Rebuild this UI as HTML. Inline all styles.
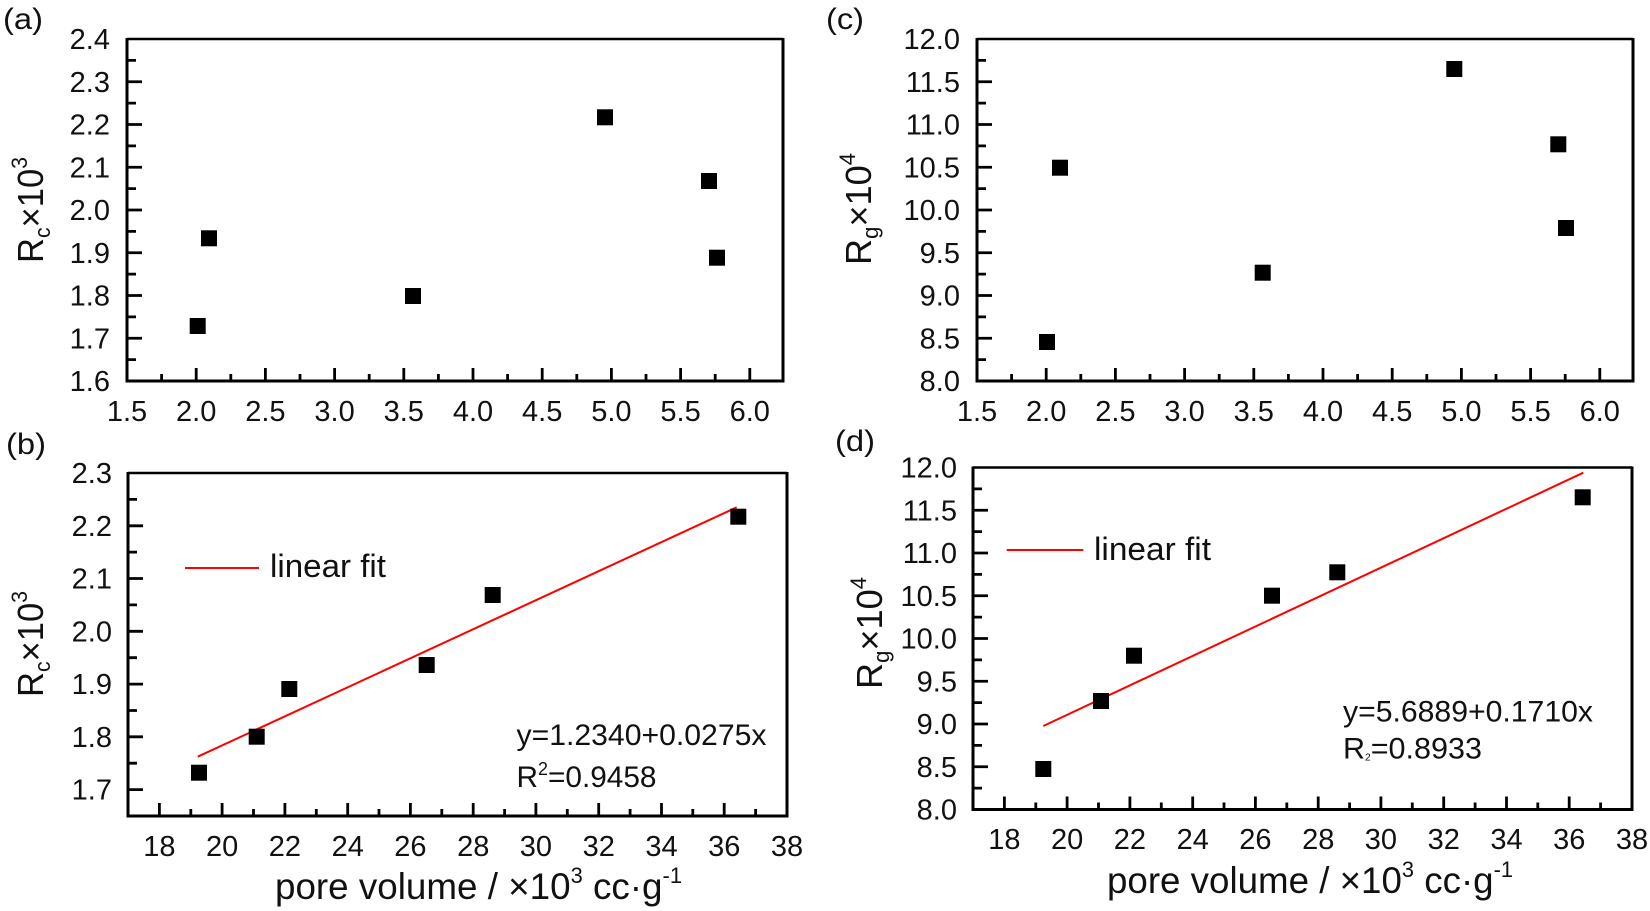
<!DOCTYPE html>
<html><head><meta charset="utf-8">
<style>
html,body{margin:0;padding:0;background:#fff;}
svg{display:block;}
text{font-family:"Liberation Sans",Arial,sans-serif;fill:#111;}
</style></head>
<body>
<svg width="1650" height="911" viewBox="0 0 1650 911" xmlns="http://www.w3.org/2000/svg">
<rect width="1650" height="911" fill="#fff"/>

<!-- ============ PANEL (a) ============ -->
<g>
<text x="3" y="29" font-size="30" textLength="40" lengthAdjust="spacingAndGlyphs">(a)</text>
<path d="M127,39 H783" stroke="#000" stroke-width="2.6" fill="none"/>
<path d="M783,38 V382.5 M125.5,381 H784.5 M127,38 V382.5" stroke="#000" stroke-width="3" fill="none"/>
<path d="M127,338.25H142M127,295.5H142M127,252.75H142M127,210H142M127,167.25H142M127,124.5H142M127,81.75H142
M127,359.6H136M127,316.9H136M127,274.1H136M127,231.4H136M127,188.6H136M127,145.9H136M127,103.1H136M127,60.4H136" stroke="#000" stroke-width="2.8"/>
<path d="M196.2,381V368M265.4,381V368M334.6,381V368M403.8,381V368M473,381V368M542.2,381V368M611.4,381V368M680.6,381V368M749.8,381V368
M161.6,381V374M230.8,381V374M300,381V374M369.2,381V374M438.4,381V374M507.6,381V374M576.8,381V374M646,381V374M715.2,381V374" stroke="#000" stroke-width="2.8"/>
<g font-size="29" text-anchor="end">
<text x="110" y="391">1.6</text><text x="110" y="348.25">1.7</text><text x="110" y="305.5">1.8</text>
<text x="110" y="262.75">1.9</text><text x="110" y="220">2.0</text><text x="110" y="177.25">2.1</text>
<text x="110" y="134.5">2.2</text><text x="110" y="91.75">2.3</text><text x="110" y="49">2.4</text>
</g>
<g font-size="29" text-anchor="middle">
<text x="127" y="421">1.5</text><text x="196.2" y="421">2.0</text><text x="265.4" y="421">2.5</text>
<text x="334.6" y="421">3.0</text><text x="403.8" y="421">3.5</text><text x="473" y="421">4.0</text>
<text x="542.2" y="421">4.5</text><text x="611.4" y="421">5.0</text><text x="680.6" y="421">5.5</text>
<text x="749.8" y="421">6.0</text>
</g>
<text transform="translate(43,210) rotate(-90)" text-anchor="middle" font-size="36" textLength="106" lengthAdjust="spacingAndGlyphs">R<tspan font-size="22" dy="7">c</tspan><tspan dy="-7">×10</tspan><tspan font-size="22" dy="-16">3</tspan></text>
<g fill="#000">
<rect x="189.7" y="318" width="16" height="16"/>
<rect x="201" y="230.3" width="16" height="16"/>
<rect x="405" y="288" width="16" height="16"/>
<rect x="597" y="109.3" width="16" height="16"/>
<rect x="701" y="173" width="16" height="16"/>
<rect x="709" y="249.7" width="16" height="16"/>
</g>
</g>

<!-- ============ PANEL (c) ============ -->
<g>
<text x="826" y="29" font-size="30" textLength="38" lengthAdjust="spacingAndGlyphs">(c)</text>
<path d="M977,39 H1633" stroke="#000" stroke-width="2.6" fill="none"/>
<path d="M1633,38 V382.5 M975.5,381 H1634.5 M977,38 V382.5" stroke="#000" stroke-width="3" fill="none"/>
<path d="M977,338.25H992M977,295.5H992M977,252.75H992M977,210H992M977,167.25H992M977,124.5H992M977,81.75H992
M977,359.6H986M977,316.9H986M977,274.1H986M977,231.4H986M977,188.6H986M977,145.9H986M977,103.1H986M977,60.4H986" stroke="#000" stroke-width="2.8"/>
<path d="M1046.2,381V368M1115.4,381V368M1184.6,381V368M1253.8,381V368M1323,381V368M1392.2,381V368M1461.4,381V368M1530.6,381V368M1599.8,381V368
M1011.6,381V374M1080.8,381V374M1150,381V374M1219.2,381V374M1288.4,381V374M1357.6,381V374M1426.8,381V374M1496,381V374M1565.2,381V374" stroke="#000" stroke-width="2.8"/>
<g font-size="29" text-anchor="end">
<text x="960" y="391">8.0</text><text x="960" y="348.25">8.5</text><text x="960" y="305.5">9.0</text>
<text x="960" y="262.75">9.5</text><text x="960" y="220">10.0</text><text x="960" y="177.25">10.5</text>
<text x="960" y="134.5">11.0</text><text x="960" y="91.75">11.5</text><text x="960" y="49">12.0</text>
</g>
<g font-size="29" text-anchor="middle">
<text x="977" y="421">1.5</text><text x="1046.2" y="421">2.0</text><text x="1115.4" y="421">2.5</text>
<text x="1184.6" y="421">3.0</text><text x="1253.8" y="421">3.5</text><text x="1323" y="421">4.0</text>
<text x="1392.2" y="421">4.5</text><text x="1461.4" y="421">5.0</text><text x="1530.6" y="421">5.5</text>
<text x="1599.8" y="421">6.0</text>
</g>
<text transform="translate(871,209) rotate(-90)" text-anchor="middle" font-size="36" textLength="112" lengthAdjust="spacingAndGlyphs">R<tspan font-size="22" dy="7">g</tspan><tspan dy="-7">×10</tspan><tspan font-size="22" dy="-16">4</tspan></text>
<g fill="#000">
<rect x="1039" y="334" width="16" height="16"/>
<rect x="1052" y="159.7" width="16" height="16"/>
<rect x="1254.7" y="264.7" width="16" height="16"/>
<rect x="1446.3" y="61" width="16" height="16"/>
<rect x="1550.3" y="136.3" width="16" height="16"/>
<rect x="1558" y="220" width="16" height="16"/>
</g>
</g>

<!-- ============ PANEL (b) ============ -->
<g>
<text x="6" y="454" font-size="30" textLength="40" lengthAdjust="spacingAndGlyphs">(b)</text>
<path d="M128,473 H787" stroke="#000" stroke-width="2.6" fill="none"/>
<path d="M787,472 V817.5 M126.5,816 H788.5 M128,472 V817.5" stroke="#000" stroke-width="3" fill="none"/>
<path d="M128,789.6H143M128,736.8H143M128,684.1H143M128,631.3H143M128,578.5H143M128,525.8H143
M128,763.2H137M128,710.5H137M128,657.7H137M128,604.9H137M128,552.1H137M128,499.4H137" stroke="#000" stroke-width="2.8"/>
<path d="M159.4,816V803M222.1,816V803M284.9,816V803M347.7,816V803M410.4,816V803M473.2,816V803M535.9,816V803M598.7,816V803M661.5,816V803M724.2,816V803
M190.8,816V809M253.5,816V809M316.3,816V809M379,816V809M441.8,816V809M504.6,816V809M567.3,816V809M630.1,816V809M692.8,816V809M755.6,816V809" stroke="#000" stroke-width="2.8"/>
<g font-size="29" text-anchor="end">
<text x="112" y="799.6">1.7</text><text x="112" y="746.8">1.8</text><text x="112" y="694.1">1.9</text>
<text x="112" y="641.3">2.0</text><text x="112" y="588.5">2.1</text><text x="112" y="535.8">2.2</text>
<text x="112" y="483">2.3</text>
</g>
<g font-size="29" text-anchor="middle">
<text x="159.4" y="856">18</text><text x="222.1" y="856">20</text><text x="284.9" y="856">22</text>
<text x="347.7" y="856">24</text><text x="410.4" y="856">26</text><text x="473.2" y="856">28</text>
<text x="535.9" y="856">30</text><text x="598.7" y="856">32</text><text x="661.5" y="856">34</text>
<text x="724.2" y="856">36</text><text x="787" y="856">38</text>
</g>
<text transform="translate(43,644) rotate(-90)" text-anchor="middle" font-size="36" textLength="106" lengthAdjust="spacingAndGlyphs">R<tspan font-size="22" dy="7">c</tspan><tspan dy="-7">×10</tspan><tspan font-size="22" dy="-16">3</tspan></text>
<text x="275" y="899" font-size="37" textLength="407" lengthAdjust="spacingAndGlyphs">pore volume / ×10<tspan font-size="22" dy="-16">3</tspan><tspan dy="16"> cc·g</tspan><tspan font-size="22" dy="-16">-1</tspan></text>
<line x1="185" y1="568" x2="259" y2="568" stroke="#f00" stroke-width="2"/>
<text x="270" y="577" font-size="32" textLength="116" lengthAdjust="spacingAndGlyphs">linear fit</text>
<line x1="197.7" y1="756.7" x2="736.7" y2="507.3" stroke="#f00" stroke-width="2"/>
<g fill="#000">
<rect x="191" y="764.7" width="16" height="16"/>
<rect x="248.7" y="728.7" width="16" height="16"/>
<rect x="281.3" y="681" width="16" height="16"/>
<rect x="418.7" y="657" width="16" height="16"/>
<rect x="484.7" y="587" width="16" height="16"/>
<rect x="730.3" y="508.7" width="16" height="16"/>
</g>
<text x="516.5" y="745" font-size="30" textLength="250" lengthAdjust="spacingAndGlyphs">y=1.2340+0.0275x</text>
<text x="516.5" y="787" font-size="30" textLength="140" lengthAdjust="spacingAndGlyphs">R<tspan font-size="18" dy="-12">2</tspan><tspan dy="12">=0.9458</tspan></text>
</g>

<!-- ============ PANEL (d) ============ -->
<g>
<text x="835" y="451" font-size="30" textLength="40" lengthAdjust="spacingAndGlyphs">(d)</text>
<path d="M973,467.5 H1632" stroke="#000" stroke-width="2.6" fill="none"/>
<path d="M1632,466.5 V811 M971.5,809.5 H1633.5 M973,466.5 V811" stroke="#000" stroke-width="3" fill="none"/>
<path d="M973,766.75H988M973,724H988M973,681.25H988M973,638.5H988M973,595.75H988M973,553H988M973,510.25H988
M973,788.1H982M973,745.4H982M973,702.6H982M973,659.9H982M973,617.1H982M973,574.4H982M973,531.6H982M973,488.9H982" stroke="#000" stroke-width="2.8"/>
<path d="M1004.4,809.5V796.5M1067.1,809.5V796.5M1129.9,809.5V796.5M1192.7,809.5V796.5M1255.4,809.5V796.5M1318.2,809.5V796.5M1380.9,809.5V796.5M1443.7,809.5V796.5M1506.5,809.5V796.5M1569.2,809.5V796.5
M1035.8,809.5V802.5M1098.5,809.5V802.5M1161.3,809.5V802.5M1224,809.5V802.5M1286.8,809.5V802.5M1349.6,809.5V802.5M1412.3,809.5V802.5M1475.1,809.5V802.5M1537.8,809.5V802.5M1600.6,809.5V802.5" stroke="#000" stroke-width="2.8"/>
<g font-size="29" text-anchor="end">
<text x="957" y="819.5">8.0</text><text x="957" y="776.75">8.5</text><text x="957" y="734">9.0</text>
<text x="957" y="691.25">9.5</text><text x="957" y="648.5">10.0</text><text x="957" y="605.75">10.5</text>
<text x="957" y="563">11.0</text><text x="957" y="520.25">11.5</text><text x="957" y="477.5">12.0</text>
</g>
<g font-size="29" text-anchor="middle">
<text x="1004.4" y="849">18</text><text x="1067.1" y="849">20</text><text x="1129.9" y="849">22</text>
<text x="1192.7" y="849">24</text><text x="1255.4" y="849">26</text><text x="1318.2" y="849">28</text>
<text x="1380.9" y="849">30</text><text x="1443.7" y="849">32</text><text x="1506.5" y="849">34</text>
<text x="1569.2" y="849">36</text><text x="1632" y="849">38</text>
</g>
<text transform="translate(882,633) rotate(-90)" text-anchor="middle" font-size="36" textLength="112" lengthAdjust="spacingAndGlyphs">R<tspan font-size="22" dy="7">g</tspan><tspan dy="-7">×10</tspan><tspan font-size="22" dy="-16">4</tspan></text>
<text x="1107" y="893" font-size="37" textLength="406" lengthAdjust="spacingAndGlyphs">pore volume / ×10<tspan font-size="22" dy="-16">3</tspan><tspan dy="16"> cc·g</tspan><tspan font-size="22" dy="-16">-1</tspan></text>
<line x1="1006.7" y1="550" x2="1083.3" y2="550" stroke="#f00" stroke-width="2"/>
<text x="1094" y="560" font-size="32" textLength="117" lengthAdjust="spacingAndGlyphs">linear fit</text>
<line x1="1043.3" y1="726" x2="1583.3" y2="472.7" stroke="#f00" stroke-width="2"/>
<g fill="#000">
<rect x="1035.3" y="761" width="16" height="16"/>
<rect x="1093" y="693" width="16" height="16"/>
<rect x="1126" y="647.7" width="16" height="16"/>
<rect x="1264" y="587.7" width="16" height="16"/>
<rect x="1329.3" y="564.3" width="16" height="16"/>
<rect x="1574.7" y="489.3" width="16" height="16"/>
</g>
<text x="1343" y="721.7" font-size="30" textLength="250" lengthAdjust="spacingAndGlyphs">y=5.6889+0.1710x</text>
<text x="1343" y="758.3" font-size="30" textLength="139" lengthAdjust="spacingAndGlyphs">R<tspan font-size="10" dy="2">2</tspan><tspan dy="-2">=0.8933</tspan></text>
</g>
</svg>
</body></html>
